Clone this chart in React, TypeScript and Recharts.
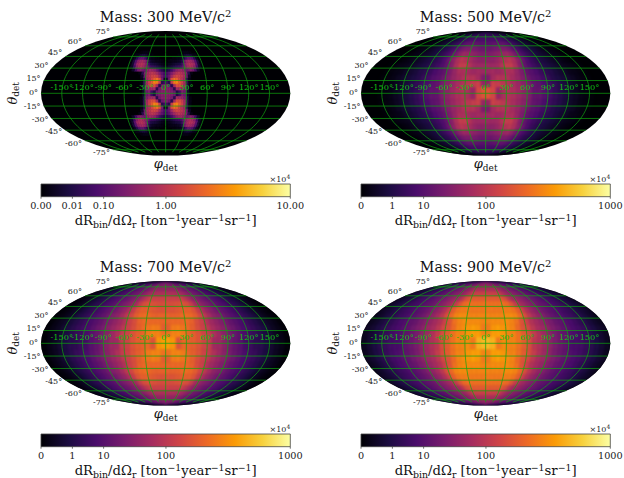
import React from 'react';
import { Area, AreaChart, ReferenceArea, Scatter, ScatterChart, XAxis, YAxis } from 'recharts';

// north-east quadrant of each sky map, rows go from the equator to the pole,
// columns from phi = 0 outwards. The other quadrants mirror it.
const rate300 = [
  [.34,.34,.28,.18,.0087,.048,.28,.18,.0009,0,0,0,0,0,0,0],
  [.34,.34,.22,.015,.56,.56,.48,.28,.0087,.00002,0,0,0,0,0,0],
  [.28,.18,.015,.65,1.65,1.65,1.15,.56,.015,.00009,0,0,0,0,0,0],
  [.048,.015,1.15,3.05,3.4,2.1,1.3,.65,.023,.00009,0,0,0,0,0,0],
  [.0009,.22,1.65,2.8,2.3,1.47,.85,.56,.015,.00009,0,0,0,0,0,0],
  [.066,.18,.56,1.15,1.47,1.3,1,.7,.18,.0009,0,0,0,0,0,0],
  [.048,.115,.28,.56,.85,1,.85,.65,.28,.015,.00009,0,0,0,0,0],
  [.0048,.015,.048,.145,.34,.48,.56,.4,.18,.22,.34,.22,.048,.0009,0,0],
  [.0005,.0015,.0048,.012,.023,.034,.048,.145,.34,.56,.75,.65,.34,.048,.0009,0],
  [.00002,.0002,.0005,.0015,.0034,.0048,.0087,.048,.28,.65,.85,.75,.56,.115,.0023,.00002],
  [0,.00002,.00009,.0002,.0002,.0005,.0009,.0087,.18,.48,.65,.56,.4,.1,.0048,.00002],
  [0,0,0,.00002,.00002,.00009,.00009,.0005,.0048,.048,.14,.14,.088,.015,.0005,.00002],
  [0,0,0,0,0,0,.00002,.00002,.0002,.0023,.0048,.0048,.0023,.0002,.00009,0],
  [0,0,0,0,0,0,0,0,.00002,.00009,.00009,.00009,.00002,0,0,0],
];

const rate500 = [
  [183,147,48,75,85,75,56,40,28,14.5,14.5,8.8,4.8,2.3,1.2,.48,.15,.05,.009,.002,.0002,0,0,0],
  [48,130,115,100,85,70,52,37,25,14.5,11.5,6.6,4,2.3,1.2,.48,.15,.05,.009,.002,.0002,0,0,0],
  [28,65,85,85,80,65,48,31,18,11.5,8.8,4.8,2.9,1.2,.65,.34,.15,.05,.009,.002,.0002,0,0,0],
  [56,65,56,65,75,75,48,28,14.5,10,6.6,3.4,1.8,1.2,.48,.23,.09,.02,.009,.002,.0002,0,0,0],
  [56,56,60,85,115,115,75,34,14.5,7.6,4,2.3,1.2,.65,.34,.15,.05,.02,.009,.002,.0002,0,0,0],
  [40,40,48,65,85,100,75,40,18,7.6,3.4,1.8,.87,.48,.23,.09,.05,.009,.002,.0002,.0002,0,0,0],
  [28,31,37,44,52,56,40,22,11.5,5.7,2.9,1.5,.65,.34,.15,.09,.02,.009,.002,.0002,.0002,0,0,0],
  [18,18,22,25,28,28,22,13,7.6,4,1.8,1.2,.65,.34,.15,.05,.02,.009,.002,.0002,.0002,0,0,0],
  [11.5,11.5,13,14.5,14.5,14.5,11.5,7.6,4.8,2.9,1.5,.87,.48,.23,.09,.05,.02,.009,.002,.0002,.0002,0,0,0],
  [6.6,6.6,6.6,6.6,6.6,6.6,4.8,4,2.9,1.5,.87,.48,.34,.15,.09,.05,.02,.009,.002,.0002,.0002,.0002,0,0],
  [2.9,2.9,2.9,2.9,2.9,2.9,2.3,1.8,1.5,.87,.65,.34,.23,.09,.05,.02,.009,.002,.002,.0002,.0002,.0002,0,0],
  [1.8,1.8,1.8,1.5,1.5,1.5,1.2,1.2,.87,.65,.48,.23,.15,.09,.05,.02,.009,.009,.002,.002,.0002,.0002,.0002,.0002],
];

const rate700 = [
  [440,405,183,255,230,220,183,138,115,60,56,37,22,14.5,10,4.8,3.4,1.8,1.5,.65,.23,.05,.009,.0002],
  [280,340,340,305,240,220,183,138,115,80,56,37,25,16,11.5,6.6,4,2.9,1.5,.65,.23,.05,.009,.0002],
  [210,305,320,290,255,220,165,130,100,70,52,37,25,18,11.5,6.6,4.8,2.9,1.5,.65,.23,.05,.009,.0002],
  [240,255,255,255,255,230,165,130,85,60,44,31,22,14.5,10,6.6,4,2.3,1.2,.48,.15,.05,.009,.0002],
  [230,230,230,255,268,255,210,147,100,65,40,31,20,13,8.8,5.7,3.4,1.8,.87,.34,.09,.02,.002,.0002],
  [183,183,198,210,225,225,183,115,75,48,34,22,16,11.5,7.6,4.8,2.9,1.5,.65,.23,.09,.02,.002,.0002],
  [165,165,175,183,183,165,115,65,48,34,25,18,13,8.8,6.6,4,2.3,1.5,.65,.34,.09,.02,.002,.0002],
  [130,130,130,130,130,100,70,44,34,25,18,14.5,11.5,7.6,5.7,3.4,2.3,1.2,.65,.34,.15,.05,.009,.002],
  [80,80,80,75,70,60,44,34,25,20,16,11.5,8.8,6.6,4.8,3.4,1.8,1.2,.65,.34,.15,.05,.02,.009],
  [48,48,48,48,44,37,28,22,18,16,13,10,7.6,5.7,4,2.9,1.8,1.2,.65,.34,.23,.09,.05,.02],
  [34,34,31,31,31,25,20,18,14.5,13,10,8.8,6.6,4.8,3.4,2.9,1.8,1.2,.65,.48,.23,.15,.09,.05],
  [25,25,25,22,22,20,16,13,11.5,10,8.8,7.6,5.7,4.8,3.4,2.9,1.8,1.5,.87,.65,.48,.23,.15,.09],
];

const rate900 = [
  [560,520,305,370,340,340,280,210,165,100,80,56,40,25,18,13,6.6,5.7,4.8,2.9,1.5,.65,.23,.05],
  [340,440,440,405,340,340,280,210,165,115,80,56,40,25,18,13,8.8,6.6,4.8,2.9,1.5,.65,.23,.05],
  [305,405,440,405,370,340,255,183,147,100,70,56,40,28,20,13,10,6.6,4.8,2.9,1.5,.65,.23,.09],
  [340,370,370,370,370,340,280,183,130,85,65,48,34,25,16,13,8.8,6.6,4,2.3,1.2,.48,.15,.05],
  [340,340,340,340,370,370,340,255,165,100,65,44,31,20,14.5,10,7.6,4.8,3.4,1.8,1.2,.48,.15,.05],
  [305,305,305,305,320,320,290,220,130,80,52,37,25,18,13,10,7.6,4.8,3.4,2.3,1.2,.48,.23,.09],
  [280,280,280,280,280,255,183,115,75,56,40,31,22,16,13,10,6.6,4.8,3.4,2.3,1.5,.65,.34,.15],
  [210,210,210,210,198,165,100,65,56,44,34,25,20,16,11.5,8.8,6.6,4.8,3.4,1.8,1.2,.65,.34,.15],
  [130,130,130,125,115,85,60,48,40,34,25,20,16,13,10,7.6,5.7,4,2.9,1.8,1.2,.65,.34,.23],
  [75,75,75,75,70,56,44,37,31,25,20,18,14.5,11.5,8.8,6.6,4.8,3.4,2.3,1.8,1.2,.87,.48,.34],
  [48,48,48,44,44,37,31,25,22,20,18,14.5,11.5,10,7.6,5.7,4.8,3.4,2.9,1.8,1.5,.87,.65,.48],
  [34,34,31,31,31,25,22,20,18,16,14.5,13,11.5,8.8,7.6,6.6,4.8,4,3.4,2.3,1.8,1.5,1.2,.87],
];

const lonTicks = [-150, -120, -90, -60, -30, 0, 30, 60, 90, 120, 150];
const latTicks = [-75, -60, -45, -30, -15, 0, 15, 30, 45, 60, 75];
const ticks300 = [0, 0.01, 0.1, 1, 10];
const ticksOther = [0, 1, 10, 100, 1000];
const labels300 = ['0.00', '0.01', '0.10', '1.00', '10.00'];
const labelsOther = ['0', '1', '10', '100', '1000'];
const inferno = ['#000004', '#1b0c41', '#4a0c6b', '#781c6d', '#a52c60', '#cf4446', '#ed6925', '#fb9b06', '#f7d13d', '#fcffa4'];

const SERIF = '"DejaVu Serif", serif';
const GRID = '#10a510';
const CHART_W = 304;
const CHART_H = 176;
const PLOT_W = 249.3;
const PLOT_H = 124.6;
const PLOT_L = 41;
const PLOT_T = 31;
const R2 = Math.SQRT2;
const PX = PLOT_W / (4 * R2);
const GAMMA = 0.3;

const project = (lon: number, lat: number) => {
  const phi = (lat * Math.PI) / 180;
  let th = phi;
  if (Math.abs(lat) >= 90) th = Math.sign(lat) * Math.PI / 2;
  else {
    for (let i = 0; i < 40; i++) {
      const d = (2 * th + Math.sin(2 * th) - Math.PI * Math.sin(phi)) / (2 + 2 * Math.cos(2 * th));
      th -= d;
      if (Math.abs(d) < 1e-7) break;
    }
  }
  return { x: ((2 * R2) / Math.PI) * ((lon * Math.PI) / 180) * Math.cos(th), y: R2 * Math.sin(th) };
};

const colorAt = (t: number) => {
  const p = Math.min(Math.max(t, 0), 1) * (inferno.length - 1);
  const i = Math.min(Math.floor(p), inferno.length - 2);
  const hex = (c: string, k: number) => parseInt(c.slice(1 + k * 2, 3 + k * 2), 16);
  const ch = [0, 1, 2].map(k => Math.round(hex(inferno[i], k) + (hex(inferno[i + 1], k) - hex(inferno[i], k)) * (p - i)));
  return `rgb(${ch.join(',')})`;
};

const buildCells = (rows: number[][], step: number, max: number) => {
  const out: any[] = [];
  rows.forEach((row, i) => row.forEach((rate, j) => {
    if (!rate) return;
    for (const sx of [-1, 1]) for (const sy of [-1, 1]) {
      const lon = sx * (j + 0.5) * step;
      const lat = sy * (i + 0.5) * step;
      const h = step / 2;
      const corners = [[lon - h, lat - h], [lon + h, lat - h], [lon + h, lat + h], [lon - h, lat + h]].map(([a, b]) => project(a, b));
      out.push({ ...project(lon, lat), corners, fill: colorAt(Math.pow(rate / max, GAMMA)) });
    }
  }));
  return out;
};

const Cell = (p: any) => {
  const { cx, cy, payload } = p;
  const pts = payload.corners.map((c: any) => `${cx + (c.x - payload.x) * PX},${cy - (c.y - payload.y) * PX}`).join(' ');
  return <polygon points={pts} fill={payload.fill} stroke={payload.fill} strokeWidth={0.6} />;
};

const noDot = () => <g />;

const meridians = lonTicks.map(lon => [-80, -70, -60, -50, -40, -30, -20, -10, 0, 10, 20, 30, 40, 50, 60, 70, 80].map(lat => project(lon, lat)));
const parallels = latTicks.map(lat => [-180, 180].map(lon => project(lon, lat)));
const lonLabels = lonTicks.map(lon => ({ ...project(lon, 0), text: `${lon}°` }));
const latLabels = latTicks.map(lat => ({ ...project(-180, lat), lat, text: `${lat}°` }));

const LonLabel = (p: any) => (
  <text x={p.cx} y={p.cy - 6.2} fontSize={8.2} fontFamily={SERIF} fill="#12bd12" textAnchor="middle" dominantBaseline="central">{p.payload.text}</text>
);
const LatLabel = (p: any) => (
  <text x={p.cx - 3} y={p.cy + (p.payload.lat >= 0 ? -1 - p.payload.lat * 0.06 : -p.payload.lat * 0.04)} fontSize={8} fontFamily={SERIF} fill="#222" textAnchor="end" dominantBaseline="central">{p.payload.text}</text>
);

const SkyMap = ({ id, title, rows, step, max, blur }: any) => {
  const cells = React.useMemo(() => buildCells(rows, step, max), [rows, step, max]);
  return (
    <ScatterChart width={CHART_W} height={CHART_H} margin={{ left: PLOT_L, top: PLOT_T, right: CHART_W - PLOT_L - PLOT_W, bottom: CHART_H - PLOT_T - PLOT_H }}>
      <defs>
        <clipPath id={`sky-${id}`}>
          <ellipse cx={PLOT_L + PLOT_W / 2} cy={PLOT_T + PLOT_H / 2} rx={PLOT_W / 2} ry={PLOT_H / 2} />
        </clipPath>
      </defs>
      <style>{`.heat-${id}{filter:blur(${blur}px);clip-path:url(#sky-${id})}`}</style>
      <XAxis dataKey="x" type="number" domain={[-2 * R2, 2 * R2]} hide />
      <YAxis dataKey="y" type="number" domain={[-R2, R2]} hide />
      <Scatter data={[{ x: 0, y: 0 }]} isAnimationActive={false} shape={(p: any) => <ellipse cx={p.cx} cy={p.cy} rx={PLOT_W / 2} ry={PLOT_H / 2} fill="#000004" />} />
      <Scatter className={`heat-${id}`} data={cells} isAnimationActive={false} shape={Cell} />
      {meridians.map((d, i) => (
        <Scatter key={`m${i}`} data={d} line={{ stroke: GRID, strokeWidth: 0.7 }} lineJointType="monotoneY" shape={noDot} isAnimationActive={false} />
      ))}
      {parallels.map((d, i) => (
        <Scatter key={`p${i}`} data={d} line={{ stroke: GRID, strokeWidth: 0.7 }} shape={noDot} isAnimationActive={false} />
      ))}
      <Scatter data={lonLabels} shape={LonLabel} isAnimationActive={false} />
      <Scatter data={latLabels} shape={LatLabel} isAnimationActive={false} />
      <text x={PLOT_L + PLOT_W / 2} y={21.5} fontFamily={SERIF} fontSize={14.3} textAnchor="middle" fill="#111">
        {title} MeV/c<tspan dy={-5} fontSize={10}>2</tspan>
      </text>
      <text x={PLOT_L + PLOT_W / 2} y={168} fontFamily={SERIF} fontSize={13} textAnchor="middle" fill="#111">
        <tspan fontStyle="italic">φ</tspan><tspan dy={2.5} fontSize={9}>det</tspan>
      </text>
      <text transform={`rotate(-90 17 ${PLOT_T + PLOT_H / 2})`} x={17} y={PLOT_T + PLOT_H / 2} fontFamily={SERIF} fontSize={13} textAnchor="middle" fill="#111">
        <tspan fontStyle="italic">θ</tspan><tspan dy={2.5} fontSize={9}>det</tspan>
      </text>
    </ScatterChart>
  );
};

const barEdges = [{ t: 0, h: 1 }, { t: 1, h: 1 }];

const ColorBar = ({ id, ticks, labels, max }: any) => {
  const pos = ticks.map((v: number) => Math.pow(v / max, GAMMA));
  return (
    <AreaChart width={CHART_W} height={66} data={barEdges} margin={{ left: PLOT_L, top: 14, right: CHART_W - PLOT_L - PLOT_W, bottom: 8 }}>
      <defs>
        <linearGradient id={`bar-${id}`} x1="0" y1="0" x2="1" y2="0">
          {inferno.map((c, i) => <stop key={c} offset={i / (inferno.length - 1)} stopColor={c} />)}
        </linearGradient>
      </defs>
      <XAxis dataKey="t" type="number" domain={[0, 1]} ticks={pos} interval={0} height={31.3} axisLine={false} tickSize={2} tickMargin={3}
        tickLine={{ stroke: '#333', strokeWidth: 0.7 }} tick={{ fill: '#222', fontFamily: SERIF, fontSize: 9.7 }}
        tickFormatter={(_: any, i: number) => labels[i]} />
      <YAxis type="number" domain={[0, 1]} hide />
      <Area dataKey="h" type="linear" stroke="none" fill={`url(#bar-${id})`} fillOpacity={1} isAnimationActive={false} />
      <ReferenceArea x1={0} x2={1} y1={0} y2={1} fill="none" stroke="#444" strokeWidth={0.8} />
      <text x={PLOT_L + PLOT_W} y={12} fontFamily={SERIF} fontSize={8} textAnchor="end" fill="#222">
        ×10<tspan dy={-3} fontSize={6}>4</tspan>
      </text>
      <text x={PLOT_L + PLOT_W / 2} y={55.3} fontFamily={SERIF} fontSize={13.2} textAnchor="middle" fill="#111">
        dR<tspan dy={2.5} fontSize={9.4}>bin</tspan><tspan dy={-2.5}>/dΩ</tspan><tspan dy={2.5} fontSize={9.4}>r</tspan>
        <tspan dy={-2.5}> [ton</tspan><tspan dy={-4.5} fontSize={9.4}>−1</tspan><tspan dy={4.5}>year</tspan><tspan dy={-4.5} fontSize={9.4}>−1</tspan>
        <tspan dy={4.5}>sr</tspan><tspan dy={-4.5} fontSize={9.4}>−1</tspan><tspan dy={4.5}>]</tspan>
      </text>
    </AreaChart>
  );
};

const panels = [
  { id: 0, left: 0, top: 0, title: 'Mass: 300', rows: rate300, step: 3.75, max: 10, blur: 0.6, ticks: ticks300, labels: labels300 },
  { id: 1, left: 320.4, top: 0, title: 'Mass: 500', rows: rate500, step: 7.5, max: 1000, blur: 1.3, ticks: ticksOther, labels: labelsOther },
  { id: 2, left: 0, top: 250, title: 'Mass: 700', rows: rate700, step: 7.5, max: 1000, blur: 1.3, ticks: ticksOther, labels: labelsOther },
  { id: 3, left: 320.4, top: 250, title: 'Mass: 900', rows: rate900, step: 7.5, max: 1000, blur: 1.3, ticks: ticksOther, labels: labelsOther },
];

export default function App() {
  return (
    <div style={{ position: 'absolute', left: 0, top: 0, width: 624, height: 478, overflow: 'hidden', background: '#fff' }}>
      {panels.map(p => (
        <div key={p.id} style={{ position: 'absolute', left: p.left, top: p.top, width: CHART_W }}>
          <SkyMap id={p.id} title={p.title} rows={p.rows} step={p.step} max={p.max} blur={p.blur} />
          <div style={{ position: 'absolute', left: 0, top: CHART_H - 6 }}>
            <ColorBar id={p.id} ticks={p.ticks} labels={p.labels} max={p.max} />
          </div>
        </div>
      ))}
    </div>
  );
}
